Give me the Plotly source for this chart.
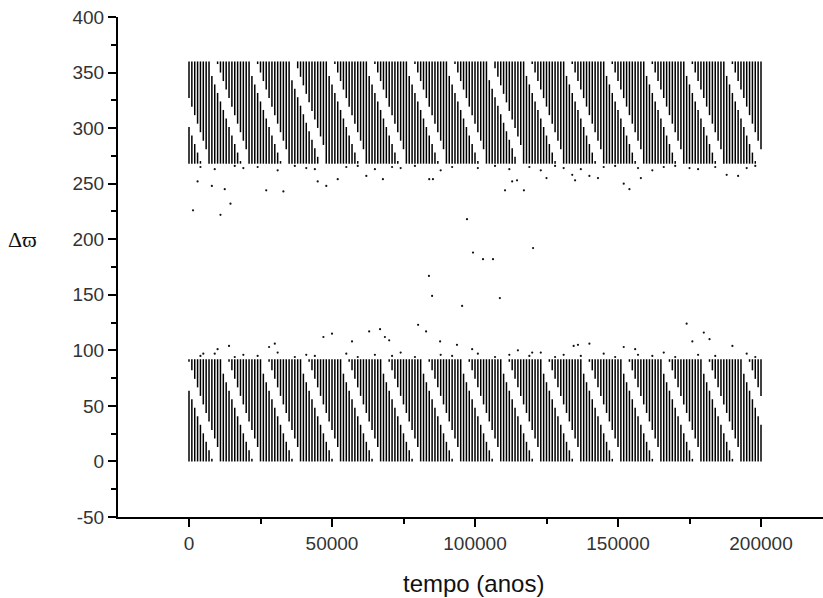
import plotly.graph_objects as go

# ---------------- data ----------------
# sampling instants of the dense libration record (years)
bar_times = list(range(0, 200001, 1000))

# limits of the two visible lobes of the libration (degrees)
top_band = [268, 360]
bottom_band = [0, 92]

# times (years) at which a white aliasing stripe enters the top of each band
top_stripe_starts = [-6000, 8000, 22000, 35500, 49000, 63000, 77000, 91000,
                     104500, 118000, 132000, 146000, 160000, 174000, 188000]
bottom_stripe_starts = [-2000, 12000, 26000, 40000, 54000, 68000, 82000, 96000,
                        110000, 124000, 138000, 152000, 166000, 180000, 194000]
stripe_descent_years = 12000   # time for a stripe to cross the whole band
stripe_gap_deg = 26            # vertical size of the white gap

# isolated points outside the two lobes
dots_t = [1400, 3000, 8000, 11000, 12500, 14500, 27000, 33000, 45000, 48000,
          52000, 62000, 67800, 84000, 85300, 97200, 99300, 102800, 106300,
          110500, 113000, 114700, 117100, 120300, 125000, 134000, 135000,
          140000, 143000, 152000, 154000, 158000, 175000, 188000, 192000,
          5000, 10000, 14000, 28000, 30000, 47000, 50000, 57000, 63000,
          66800, 68500, 70000, 80100, 82900, 83900, 85000, 87800, 93700,
          95500, 99000, 108700, 115000, 120000, 134500, 136000, 140000,
          152000, 156000, 174000, 176000, 180000, 182000, 190000]
dots_v = [226, 252, 248, 222, 245, 232, 244, 243, 252, 248,
          254, 257, 254, 254, 254, 218, 188, 182, 182,
          244, 252, 253, 244, 192, 255, 258, 253,
          257, 255, 250, 245, 255, 264, 258, 257,
          97, 101, 104, 103, 106, 112, 115, 108, 117,
          119, 112, 109, 123, 117, 167, 149, 108, 105,
          140, 101, 147, 100, 98, 104, 105, 106,
          103, 101, 124, 108, 116, 110, 104]

# tiny dots hugging the edges of the lobes
edge_t = [4000, 9000, 16000, 19000, 24000, 31000, 37000, 41000, 44000, 55000,
          59000, 65000, 71000, 74000, 79000, 88000, 92000, 101000, 107000,
          112000, 119000, 123000, 128000, 131000, 137000, 145000, 149000,
          157000, 162000, 166000, 170000, 178000, 184000, 195000, 198000]
edge_top_v = [265, 263, 266, 264, 265, 262, 266, 264, 263, 265,
              266, 263, 265, 264, 266, 262, 265, 264, 266,
              263, 265, 262, 266, 264, 263, 265, 266,
              264, 262, 265, 266, 263, 265, 264, 266]
edge_bot_v = [95, 97, 94, 96, 95, 98, 94, 96, 95, 97,
              94, 96, 95, 98, 94, 96, 95, 97, 94,
              96, 95, 98, 94, 96, 95, 97, 94,
              96, 95, 98, 94, 96, 95, 97, 94]

x_tickvals = [0, 50000, 100000, 150000, 200000]
y_tickvals = [-50, 0, 50, 100, 150, 200, 250, 300, 350, 400]
y_ticktext = ["-50", "0", "50", "100", "150", "200", "250", "300", "350", "400"]


def band_segments(band, starts):
    lo, hi = band
    xs, ys = [], []
    for t in bar_times:
        gaps = []
        for s in starts:
            if s <= t <= s + stripe_descent_years:
                c = hi - (t - s) / stripe_descent_years * (hi - lo)
                gaps.append((c - stripe_gap_deg / 2, c + stripe_gap_deg / 2))
        pieces = [(lo, hi)]
        for g0, g1 in gaps:
            new = []
            for a, b in pieces:
                if g1 <= a or g0 >= b:
                    new.append((a, b))
                else:
                    if g0 > a:
                        new.append((a, g0))
                    if g1 < b:
                        new.append((g1, b))
            pieces = new
        for a, b in pieces:
            if b - a > 1:
                xs += [t, t, None]
                ys += [a, b, None]
    return xs, ys


fig = go.Figure()
for band, starts in [(top_band, top_stripe_starts), (bottom_band, bottom_stripe_starts)]:
    xs, ys = band_segments(band, starts)
    fig.add_trace(go.Scatter(x=xs, y=ys, mode="lines",
                             line=dict(color="#000000", width=1.5),
                             hoverinfo="skip", showlegend=False))

fig.add_trace(go.Scatter(x=dots_t + edge_t + edge_t,
                         y=dots_v + edge_top_v + edge_bot_v,
                         mode="markers",
                         marker=dict(color="#111", size=2.2),
                         showlegend=False))

tick_font = dict(family="Liberation Sans, Arial, sans-serif", size=19, color="#333")

fig.update_layout(
    width=823, height=598,
    margin=dict(l=118, r=0, t=17, b=81),
    paper_bgcolor="white", plot_bgcolor="white",
    showlegend=False,
    xaxis=dict(range=[-24825, 221678], tickvals=x_tickvals,
               ticktext=[str(v) for v in x_tickvals],
               showgrid=False, zeroline=False, showline=True,
               linecolor="black", linewidth=2,
               ticks="outside", ticklen=8, tickwidth=2, tickcolor="black",
               minor=dict(ticks="outside", ticklen=5, tickwidth=2,
                          tickcolor="black", dtick=25000, tick0=0, showgrid=False),
               tickfont=tick_font),
    yaxis=dict(range=[-50, 400], tickvals=y_tickvals, ticktext=y_ticktext,
               showgrid=False, zeroline=False, showline=True,
               linecolor="black", linewidth=2,
               ticks="outside", ticklen=8, tickwidth=2, tickcolor="black",
               minor=dict(ticks="outside", ticklen=5, tickwidth=2,
                          tickcolor="black", dtick=25, tick0=0, showgrid=False),
               tickfont=tick_font),
)

fig.add_annotation(text="tempo (anos)", xref="paper", yref="paper",
                   x=(474 - 118) / 705, y=-(583 - 517) / 500,
                   xanchor="center", yanchor="middle", showarrow=False,
                   font=dict(family="Liberation Sans, Arial, sans-serif", size=24, color="#111"))
fig.add_annotation(text="Δϖ", xref="paper", yref="paper",
                   x=-(118 - 22) / 705, y=(517 - 240) / 500,
                   xanchor="center", yanchor="middle", showarrow=False,
                   font=dict(family="Liberation Serif, Times New Roman, serif", size=22, color="#111"))

fig.write_html("out.html")
